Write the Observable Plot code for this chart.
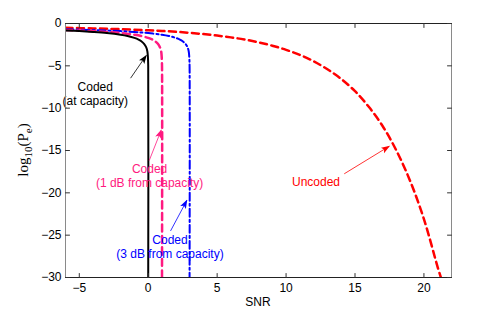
<!DOCTYPE html>
<html>
<head>
<meta charset="utf-8">
<script src="https://cdn.jsdelivr.net/npm/d3@7"></script>
<script src="https://cdn.jsdelivr.net/npm/@observablehq/plot@0.6"></script>
<style>
  html, body { margin: 0; padding: 0; background: #fff; }
  #chart { width: 498px; height: 313px; }
</style>
</head>
<body>
<div id="chart"></div>
<script>
// ---- data ----
const xTicks = [-5, 0, 5, 10, 15, 20];
const yTicks = [0, -5, -10, -15, -20, -25, -30];

const uncodedSNR = [-6, -4, -2, 0, 1, 2, 3, 4, 5, 6, 7, 8, 9, 10, 11, 12, 13, 14, 15, 16, 17, 18, 19, 20, 21, 21.23];
const uncodedPe  = [-0.51, -0.58, -0.67, -0.8, -0.88, -0.98, -1.1, -1.25, -1.43, -1.64, -1.9, -2.22, -2.62, -3.11, -3.71, -4.46, -5.41, -6.55, -8.0, -9.84, -12.1, -15.0, -18.6, -23.1, -28.8, -30];

const capSNR = [-6, -5, -4, -3, -2, -1.5, -1, -0.7, -0.5, -0.3, -0.15, -0.06, -0.02, 0, 0];
const capPe  = [-0.83, -0.9, -1.0, -1.13, -1.33, -1.48, -1.7, -1.9, -2.1, -2.4, -2.8, -3.3, -4.0, -5.0, -30];

const oneDbSNR = [-6, -5, -4, -3, -2, -1, -0.5, 0, 0.3, 0.5, 0.7, 0.85, 0.94, 0.98, 1, 1];
const oneDbPe  = [-0.77, -0.83, -0.9, -1.0, -1.13, -1.33, -1.48, -1.7, -1.9, -2.1, -2.4, -2.8, -3.3, -4.0, -5.0, -30];

const threeDbSNR = [-6, -5, -4, -3, -2, -1, 0, 1, 1.5, 2, 2.3, 2.5, 2.7, 2.85, 2.94, 2.98, 3, 3];
const threeDbPe  = [-0.68, -0.72, -0.77, -0.83, -0.9, -1.0, -1.13, -1.33, -1.48, -1.7, -1.9, -2.1, -2.4, -2.8, -3.3, -4.0, -5.0, -30];

const labelText  = ["Coded\n(at capacity)", "Coded\n(1 dB from capacity)", "Coded\n(3 dB from capacity)", "Uncoded"];
const labelSNR   = [-3.84, 0.1, 1.58, 12.17];
const labelPe    = [-8.27, -18.0, -26.3, -18.65];
const labelColor = ["#000000", "#ff1a80", "#0000ff", "#ff0000"];

const arrowFromSNR = [-1.28, 0.07, 1.62, 14.22];
const arrowFromPe  = [-6.46, -16.2, -24.5, -17.75];
const arrowToSNR   = [-0.145, 0.94, 2.8, 17.48];
const arrowToPe    = [-3.78, -12.6, -20.9, -14.5];

// ---- tables ----
const toRows = (xs, ys) => xs.map((x, i) => ({x, y: ys[i]}));
const labels = labelText.map((t, i) => ({t, x: labelSNR[i], y: labelPe[i], c: labelColor[i]}));
const arrows = arrowFromSNR.map((x1, i) => ({x1, y1: arrowFromPe[i], x2: arrowToSNR[i], y2: arrowToPe[i], c: labelColor[i]}));

const tickShape = {draw(ctx, l) { ctx.moveTo(0, 0); ctx.lineTo(0, -l); }};
const font = "'Liberation Sans', Arial, Helvetica, sans-serif";

function headMarker(color) {
  const ns = "http://www.w3.org/2000/svg";
  const m = document.createElementNS(ns, "marker");
  m.setAttribute("viewBox", "-8 -4 9 8");
  m.setAttribute("markerWidth", "9");
  m.setAttribute("markerHeight", "8");
  m.setAttribute("markerUnits", "userSpaceOnUse");
  m.setAttribute("orient", "auto");
  m.setAttribute("refX", "0");
  m.setAttribute("refY", "0");
  const p = document.createElementNS(ns, "path");
  p.setAttribute("d", "M-8,-3.2L1,0L-8,3.2L-6,0Z");
  p.setAttribute("fill", color);
  p.setAttribute("stroke", "none");
  m.appendChild(p);
  return m;
}

const plot = Plot.plot({
  width: 498,
  height: 313,
  marginLeft: 65,
  marginRight: 47,
  marginTop: 23,
  marginBottom: 36,
  style: {fontFamily: font, fontSize: "12px", background: "#fff", overflow: "visible"},
  x: {domain: [-6, 22], ticks: xTicks, label: null},
  y: {domain: [-30, 0], ticks: yTicks, label: null},
  marks: [
    // curves
    Plot.line(toRows(uncodedSNR, uncodedPe), {x: "x", y: "y", stroke: "#ff0000", strokeWidth: 2.5, strokeDasharray: "7,4.5", curve: "catmull-rom", clip: true}),
    Plot.line(toRows(threeDbSNR, threeDbPe), {x: "x", y: "y", stroke: "#0000ff", strokeWidth: 2, strokeDasharray: "8,3,2,3", curve: "catmull-rom", clip: true}),
    Plot.line(toRows(oneDbSNR, oneDbPe), {x: "x", y: "y", stroke: "#ff1a80", strokeWidth: 2.5, strokeDasharray: "7,4.5", curve: "catmull-rom", clip: true}),
    Plot.line(toRows(capSNR, capPe), {x: "x", y: "y", stroke: "#000000", strokeWidth: 2, curve: "catmull-rom", clip: true}),
    // annotations
    Plot.link(arrows, {x1: "x1", y1: "y1", x2: "x2", y2: "y2", stroke: "c", strokeWidth: 0.8, markerEnd: headMarker}),
    Plot.text(labels, {x: "x", y: "y", text: "t", fill: "c", fontSize: 12, lineHeight: 1.17, textAnchor: "middle"}),
    // frame
    Plot.frame({stroke: "#8a8a8a", strokeWidth: 1}),
    Plot.frame({anchor: "top", stroke: "#222"}),
    Plot.frame({anchor: "bottom", stroke: "#222"}),
    // inward ticks on all four sides
    Plot.vector(xTicks, {x: d => d, frameAnchor: "bottom", length: 4, rotate: 0, anchor: "start", shape: tickShape, stroke: "#333", strokeWidth: 1}),
    Plot.vector(xTicks, {x: d => d, frameAnchor: "top", length: 4, rotate: 180, anchor: "start", shape: tickShape, stroke: "#333", strokeWidth: 1}),
    Plot.vector(yTicks, {y: d => d, frameAnchor: "left", length: 4, rotate: 90, anchor: "start", shape: tickShape, stroke: "#333", strokeWidth: 1}),
    Plot.vector(yTicks, {y: d => d, frameAnchor: "right", length: 4, rotate: -90, anchor: "start", shape: tickShape, stroke: "#333", strokeWidth: 1}),
    // tick labels
    Plot.axisX({ticks: xTicks, tickSize: 0, tickPadding: 6, label: null, fontSize: 12, fill: "#000"}),
    Plot.axisY({ticks: yTicks, tickSize: 0, tickPadding: 4, label: null, fontSize: 12, fill: "#000"})
  ]
});

const svg = d3.select(plot);
// x label
svg.append("text")
  .attr("x", 258).attr("y", 306)
  .attr("text-anchor", "middle")
  .attr("font-family", font).attr("font-size", 12).attr("fill", "#000")
  .text("SNR");
// y label log10(Pe)
const yl = svg.append("text")
  .attr("transform", "translate(28,150) rotate(-90)")
  .attr("text-anchor", "middle")
  .attr("font-family", "'Liberation Serif', 'Times New Roman', serif")
  .attr("font-size", 15).attr("fill", "#000");
yl.append("tspan").text("log");
yl.append("tspan").attr("dy", 3.5).attr("font-size", 11).text("10");
yl.append("tspan").attr("dy", -3.5).text("(P");
yl.append("tspan").attr("dy", 3.5).attr("font-size", 11).text("e");
yl.append("tspan").attr("dy", -3.5).text(")");

document.getElementById("chart").appendChild(plot);
</script>
</body>
</html>
